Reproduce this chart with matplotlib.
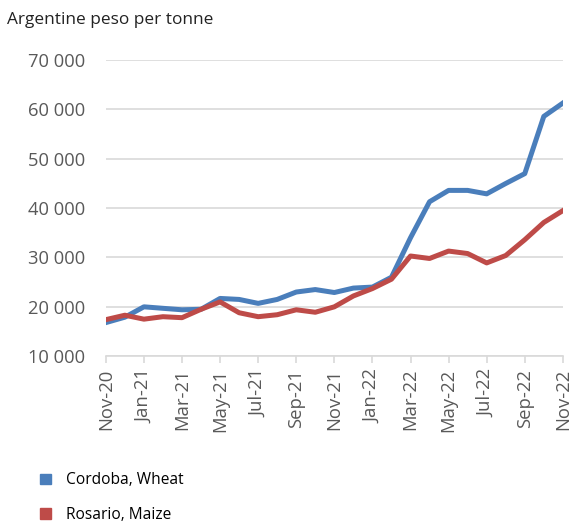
import matplotlib.pyplot as plt
from matplotlib.patches import Patch
from matplotlib.ticker import FuncFormatter

months = ["Nov-20", "Dec-20", "Jan-21", "Feb-21", "Mar-21", "Apr-21", "May-21", "Jun-21",
          "Jul-21", "Aug-21", "Sep-21", "Oct-21", "Nov-21", "Dec-21", "Jan-22", "Feb-22",
          "Mar-22", "Apr-22", "May-22", "Jun-22", "Jul-22", "Aug-22", "Sep-22", "Oct-22",
          "Nov-22"]
wheat = [16800, 17900, 20000, 19700, 19400, 19500, 21700, 21500, 20700, 21500, 23000,
         23500, 22900, 23800, 24000, 26000, 34000, 41300, 43600, 43600, 42900, 45000,
         47000, 58600, 61300]
maize = [17400, 18300, 17500, 18000, 17800, 19500, 21000, 18800, 18000, 18400, 19400,
         18900, 20000, 22200, 23700, 25600, 30300, 29800, 31300, 30800, 28900, 30400,
         33600, 37100, 39500]
yticks = [10000, 20000, 30000, 40000, 50000, 60000, 70000]

blue = "#4a7ebb"
red = "#be4b48"
grey = "#595959"

plt.rcParams["font.family"] = ["Open Sans", "DejaVu Sans"]

fig = plt.figure(figsize=(5.72, 5.23), dpi=100)
ax = fig.add_axes([0.185, 0.319, 0.799, 0.566])

x = list(range(len(months)))
ax.plot(x, wheat, color=blue, lw=3.6, solid_joinstyle="round", zorder=3)
ax.plot(x, maize, color=red, lw=3.6, solid_joinstyle="round", zorder=3)

ax.set_xlim(0, len(months) - 1)
ax.set_ylim(10000, 70000)
ax.set_yticks(yticks)
ax.yaxis.set_major_formatter(FuncFormatter(lambda v, p: f"{int(v):,}".replace(",", " ")))
ax.set_xticks(x[::2])
ax.set_xticklabels(months[::2], rotation=90)

ax.grid(axis="y", color="#d9d9d9", lw=1.2)
ax.set_axisbelow(True)
for s in ["top", "right", "left"]:
    ax.spines[s].set_visible(False)
ax.spines["bottom"].set_color("#d9d9d9")
ax.spines["bottom"].set_linewidth(1.2)
ax.tick_params(axis="y", length=0, pad=15, labelsize=13.2, labelcolor=grey)
ax.tick_params(axis="x", length=5, color="#d9d9d9", width=1.2, pad=4, labelsize=13.3,
               labelcolor=grey)

fig.text(0.012, 0.962, "Argentine peso per tonne", fontsize=12.4, color="#222222",
         va="center", ha="left")

handles = [Patch(color=blue, label="Cordoba, Wheat"), Patch(color=red, label="Rosario, Maize")]
fig.legend(handles=handles, loc="lower left", bbox_to_anchor=(0.045, -0.027), frameon=False,
           fontsize=11.2, handlelength=0.7, handleheight=0.7, handletextpad=1.0,
           labelspacing=1.2)

fig.savefig("out.png", dpi=100)
